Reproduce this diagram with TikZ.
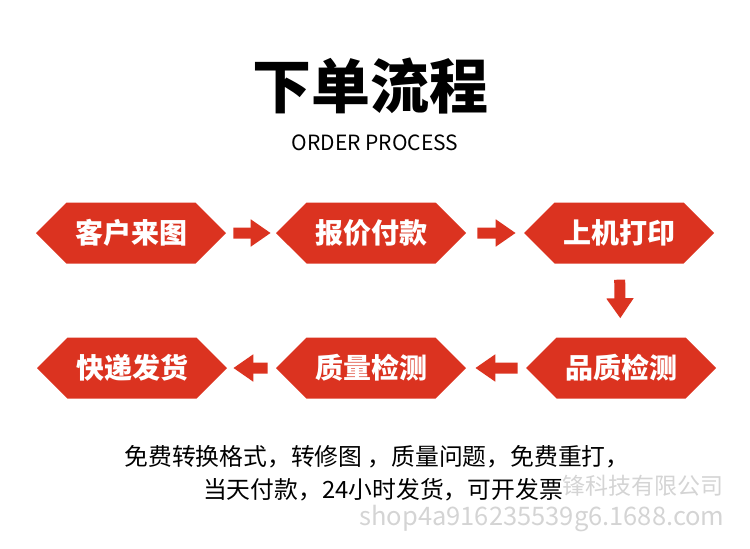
\documentclass[tikz,border=0pt]{standalone}
\usepackage{fontspec}
\newfontfamily\cjk{Noto Sans CJK SC}
\usetikzlibrary{shapes.symbols,arrows.meta}
\definecolor{stepred}{HTML}{DB3320}
\definecolor{markgray}{HTML}{D4D4D4}
\tikzset{
  stage/.style={signal, signal to=west and east, signal pointer angle=90,
    fill=stepred, minimum width=190pt, minimum height=61pt, inner sep=0pt,
    text=white, font=\cjk\bfseries\fontsize{28}{28}\selectfont},
  flow/.style={-{Triangle[length=20pt,width=26pt]}, line width=11pt, draw=stepred},
}
\begin{document}
\begin{tikzpicture}[x=1pt,y=-1pt]
\useasboundingbox (0,0) rectangle (750,549);
% Heading
\node (title) at (370,86) {\cjk\bfseries\fontsize{59}{59}\selectfont 下单流程};
\node (sub) at (375,143) {\cjk\fontsize{21}{21}\selectfont ORDER PROCESS};
% First row
\node[stage] (order) at (131,233) {客户来图};
\node[stage] (pay) at (371,233) {报价付款};
\node[stage] (print) at (619,233) {上机打印};
% Second row
\node[stage] (check) at (621,368) {品质检测};
\node[stage] (test) at (371,368) {质量检测};
\node[stage] (ship) at (132,368) {快递发货};
% Connectors
\draw[flow, shorten <=7pt, shorten >=5pt] (order) -- (pay);
\draw[flow, shorten <=11pt, shorten >=8pt] (pay) -- (print);
\draw[flow, shorten <=16pt, shorten >=19pt] (print) -- (check);
\draw[flow, shorten <=8pt, shorten >=9pt] (check) -- (test);
\draw[flow, shorten <=8pt, shorten >=6pt] (test) -- (ship);
% Watermark
\node[text=markgray, anchor=east] (firm) at (727,486) {\cjk\fontsize{23}{23}\selectfont 锋科技有限公司};
\node[text=markgray, anchor=east] (shop) at (728,519) {\cjk\fontsize{25.5}{25.5}\selectfont shop4a916235539g6.1688.com};
% Notes
\node (note1) at (377,457) {\cjk\fontsize{23.8}{23.8}\selectfont 免费转换格式，转修图 ，质量问题，免费重打，};
\node (note2) at (383,490) {\cjk\fontsize{23.8}{23.8}\selectfont 当天付款，24小时发货，可开发票};
\end{tikzpicture}
\end{document}
